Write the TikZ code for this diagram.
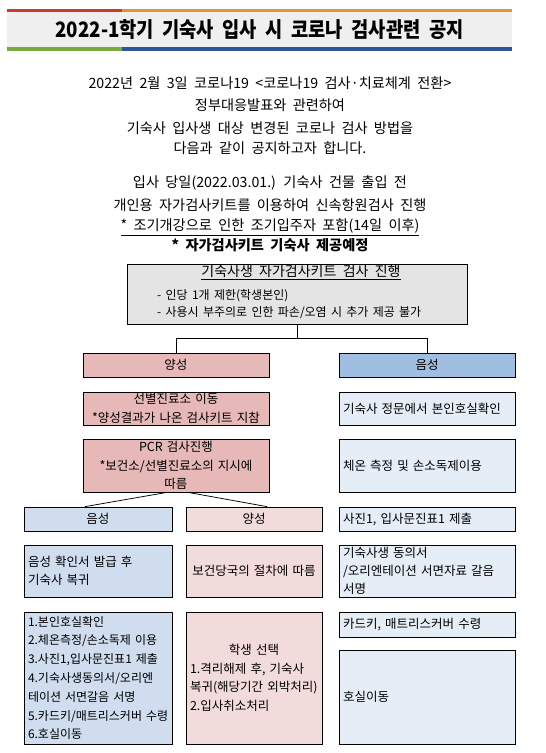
\documentclass[tikz,border=0pt]{standalone}
\usepackage{fontspec}
\setmainfont{Noto Sans CJK KR}[WordSpace=2.0]
\newfontfamily\bodyfont{Noto Sans CJK KR}[WordSpace=1.6]
\definecolor{tgray}{HTML}{EFEFEF}
\definecolor{cred}{HTML}{CC3C28}
\definecolor{corange}{HTML}{E1962D}
\definecolor{cgreen}{HTML}{78AA3C}
\definecolor{cblue}{HTML}{2D559B}
\definecolor{mgray}{HTML}{E4E4E4}
\definecolor{pinkD}{HTML}{E6B8B7}
\definecolor{blueD}{HTML}{A0BEE1}
\definecolor{pinkL}{HTML}{F2DCDB}
\definecolor{blueL}{HTML}{CFDDEE}
\definecolor{blueX}{HTML}{E5EDF7}
\newcommand\bxfont{\fontsize{12.5}{18.8}\selectfont}
\newcommand\txfont{\fontsize{14.2}{21}\selectfont}
\tikzset{
  bx/.style={draw, line width=0.75pt, inner xsep=4pt, inner ysep=0pt, font=\bxfont},
  tx/.style={inner sep=0pt, font=\txfont},
  ln/.style={line width=0.75pt},
}
\begin{document}
\begin{tikzpicture}[x=1pt,y=-1pt]
\useasboundingbox (0,0) rectangle (546,753);
% title band
\fill[tgray] (7,12) rectangle (512,47);
\fill[cred] (7,9) rectangle (122,12);
\fill[corange] (122,9) rectangle (512,12);
\fill[cgreen] (7,47) rectangle (122,51);
\fill[cblue] (122,47) rectangle (512,51);
\node[anchor=base, inner sep=0pt] (title) at (259.5,37.5)
  {\resizebox{408pt}{18pt}{\fontsize{22}{22}\selectfont\bfseries 2022-1학기 기숙사 입사 시 코로나 검사관련 공지}};
% body text
\node[tx] (l1) at (270,83) {2022년 2월 3일 코로나19 <코로나19 검사·치료체계 전환>};
\node[tx] (l2) at (270,105) {정부대응발표와 관련하여};
\node[tx] (l3) at (270,128) {기숙사 입사생 대상 변경된 코로나 검사 방법을};
\node[tx] (l4) at (270,148) {다음과 같이 공지하고자 합니다.};
\node[tx] (l5) at (270,183) {입사 당일(2022.03.01.) 기숙사 건물 출입 전};
\node[tx] (l6) at (270,205) {개인용 자가검사키트를 이용하여 신속항원검사 진행};
\node[tx] (l7) at (270,227) {\underline{* 조기개강으로 인한 조기입주자 포함(14일 이후)}};
\node[tx] (l8) at (270,245) {\bfseries * 자가검사키트 기숙사 제공예정};
% main box
\node[bx, fill=mgray, minimum width=340pt, minimum height=60pt] (main) at (297,294) {};
\node[tx, font=\fontsize{14}{16}\selectfont] (mt) at (301,272) {\underline{기숙사생 자가검사키트 검사 진행}};
\node[tx, anchor=west, align=left, font=\fontsize{12}{17}\bodyfont\selectfont] (mb) at (157,304.5)
  {- 인당 1개 제한(학생본인)\\- 사용시 부주의로 인한 파손/오염 시 추가 제공 불가};
% upper rows
\node[bx, fill=pinkD, minimum width=186pt, minimum height=24pt, text width=178pt, align=center] (p1) at (176,365) {양성};
\node[bx, fill=blueD, minimum width=176pt, minimum height=24pt, text width=168pt, align=center] (n1) at (427,365) {음성};
\node[bx, fill=pinkD, minimum width=186pt, minimum height=33pt, text width=178pt, align=center] (p2) at (176,408.5)
  {\mbox{선별진료소 이동}\\{}\mbox{*양성결과가 나온 검사키트 지참}};
\node[bx, fill=blueX, minimum width=176pt, minimum height=33pt, text width=168pt, align=left] (n2) at (427,408.5)
  {\mbox{기숙사 정문에서 본인호실확인}};
\node[bx, fill=pinkD, minimum width=186pt, minimum height=53pt, text width=178pt, align=center] (p3) at (176,465.5)
  {\mbox{PCR 검사진행}\\{}\mbox{*보건소/선별진료소의 지시에}\\{}따름};
\node[bx, fill=blueX, minimum width=176pt, minimum height=53pt, text width=168pt, align=left] (n3) at (427,465.5)
  {\mbox{체온 측정 및 손소독제이용}};
% row A
\node[bx, fill=blueL, minimum width=148pt, minimum height=24pt, text width=140pt, align=center] (a1) at (98,519) {음성};
\node[bx, fill=pinkL, minimum width=136pt, minimum height=24pt, text width=128pt, align=center] (a2) at (254,519) {양성};
\node[bx, fill=blueX, minimum width=176pt, minimum height=24pt, text width=168pt, align=left] (a3) at (427,519)
  {\mbox{사진1, 입사문진표1 제출}};
% row B
\node[bx, fill=blueL, minimum width=148pt, minimum height=52pt, text width=140pt, align=left, font=\fontsize{12.5}{18}\selectfont] (b1) at (98,571)
  {\mbox{음성 확인서 발급 후}\\\mbox{기숙사 복귀}};
\node[bx, fill=pinkL, minimum width=136pt, minimum height=52pt, text width=128pt, align=center] (b2) at (254,571)
  {\mbox{보건당국의 절차에 따름}};
\node[bx, fill=blueX, minimum width=176pt, minimum height=52pt, text width=168pt, align=left, font=\fontsize{12.5}{18}\selectfont] (b3) at (427,571)
  {\mbox{기숙사생 동의서}\\\makebox[166pt][s]{/오리엔테이션 서면자료 갈음}\\\mbox{서명}};
% row C
\node[bx, fill=blueL, minimum width=148pt, minimum height=132pt, text width=140pt, align=left, font=\fontsize{12}{18.8}\selectfont] (c1) at (98,678)
  {\mbox{1.본인호실확인}\\\mbox{2.체온측정/손소독제 이용}\\\mbox{3.사진1,입사문진표1 제출}\\\mbox{4.기숙사생동의서/오리엔}\\\mbox{테이션 서면갈음 서명}\\\mbox{5.카드키/매트리스커버 수령}\\\mbox{6.호실이동}};
\node[bx, fill=pinkL, minimum width=136pt, minimum height=132pt, text width=128pt, align=left, font=\fontsize{12.5}{18.5}\selectfont] (c2) at (254,678)
  {\makebox[128pt]{학생 선택}\\\makebox[128pt][s]{1.격리해제 후, 기숙사}\\\mbox{복귀(해당기간 외박처리)}\\\mbox{2.입사취소처리}};
\node[bx, fill=blueX, minimum width=176pt, minimum height=25pt, text width=168pt, align=left] (c3) at (427,624.5)
  {\mbox{카드키, 매트리스커버 수령}};
\node[bx, fill=blueX, minimum width=176pt, minimum height=94pt, text width=168pt, align=left] (c4) at (427,697)
  {호실이동};
% connectors
\draw[ln] (main.south) -- ++(0,14) coordinate (j1);
\draw[ln] (p1.north) |- (j1) -| (n1.north);
\draw[ln] ([xshift=-9pt]p3.south) -- ([xshift=-13pt]a1.north);
\draw[ln] ([xshift=12pt]p3.south) -- ([xshift=13pt]a2.north);
\end{tikzpicture}
\end{document}
